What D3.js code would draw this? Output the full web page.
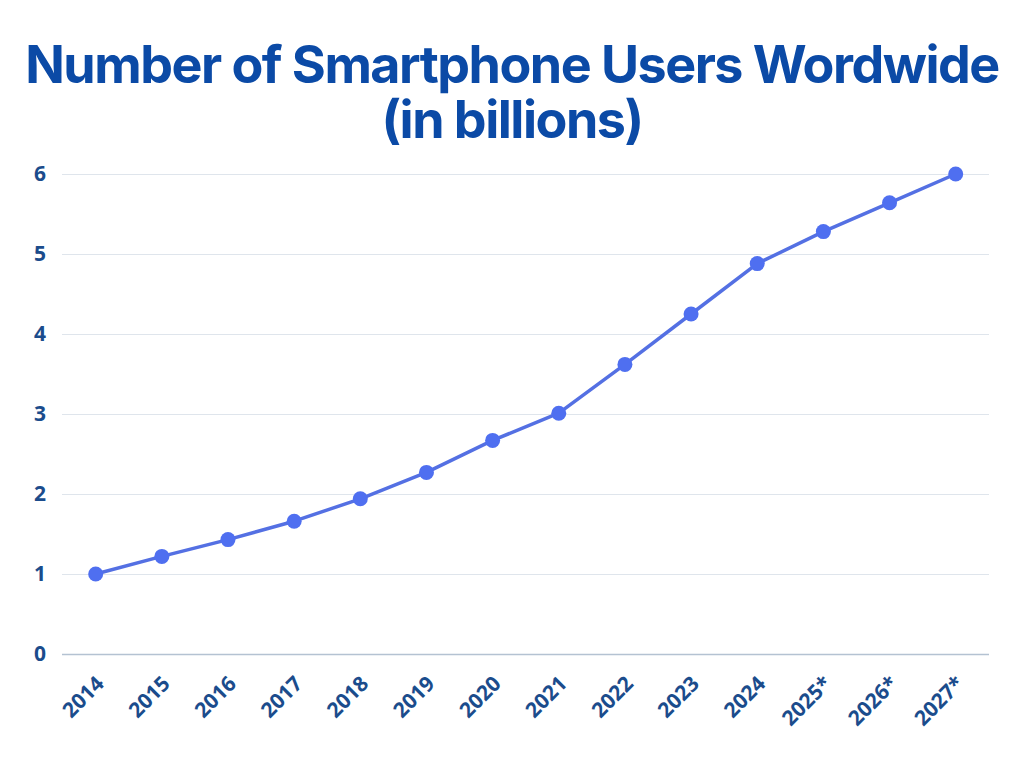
<!DOCTYPE html>
<html lang="en">
<head>
  <meta charset="UTF-8">
  <script src="https://d3js.org/d3.v7.min.js"></script>
  <title>Number of Smartphone Users Wordwide</title>
  <style>
    body { margin: 0; background: #fff; }
    .title { font-family: Inter, "Open Sans", sans-serif; font-weight: 700; fill: #0b4aa6; letter-spacing: -1.5px; }
  </style>
</head>
<body>
  <div id="chart"></div>
  <script>
    const years = ["2014", "2015", "2016", "2017", "2018", "2019", "2020",
                   "2021", "2022", "2023", "2024", "2025*", "2026*", "2027*"];
    const users = [1.0, 1.22, 1.43, 1.66, 1.94, 2.27, 2.67,
                   3.01, 3.62, 4.25, 4.88, 5.28, 5.64, 6.0];
    const yTicks = [0, 1, 2, 3, 4, 5, 6];
    const titleLines = ["Number of Smartphone Users Wordwide", "(in billions)"];

    const width = 1024, height = 768;
    const svg = d3.select("#chart").append("svg")
      .attr("width", width)
      .attr("height", height);

    // title: size it so the first line spans ~976px without squeezing glyphs
    const t1 = svg.append("text").attr("class", "title")
      .attr("x", 512).attr("y", 83)
      .attr("text-anchor", "middle")
      .attr("font-size", 52)
      .text(titleLines[0]);
    const fs = Math.min(52, 52 * 976 / t1.node().getComputedTextLength());
    t1.attr("font-size", fs);
    svg.append("text").attr("class", "title")
      .attr("x", 512).attr("y", 138)
      .attr("text-anchor", "middle")
      .attr("font-size", fs)
      .text(titleLines[1]);

    const plot = { left: 62, right: 989, top: 174, bottom: 654 };

    const x = d3.scalePoint()
      .domain(years)
      .range([95.7, 955.7]);

    const y = d3.scaleLinear()
      .domain([0, 6])
      .range([plot.bottom, plot.top]);

    // grid + y labels
    const yAxis = svg.append("g")
      .attr("transform", `translate(${plot.left},0)`)
      .call(d3.axisLeft(y).tickValues(yTicks).tickSize(-(plot.right - plot.left)).tickPadding(16).tickFormat(d3.format("d")));
    yAxis.select(".domain").remove();
    yAxis.selectAll(".tick line")
      .attr("stroke", d => d === 0 ? "#b4c2d2" : "#dfe5ec")
      .attr("stroke-width", d => d === 0 ? 1.5 : 1);

    // x labels
    const xAxis = svg.append("g")
      .attr("transform", `translate(0,${plot.bottom})`)
      .call(d3.axisBottom(x).tickSize(0));
    xAxis.select(".domain").remove();
    xAxis.selectAll(".tick text")
      .attr("text-anchor", "end")
      .attr("x", 0)
      .attr("y", 0)
      .attr("dx", 0)
      .attr("dy", 0)
      .attr("transform", "translate(9,31) rotate(-45)");

    svg.selectAll(".tick text")
      .style("font-family", "'Open Sans', sans-serif")
      .style("font-weight", 700)
      .style("font-size", "21px")
      .style("fill", "#1b4c8c");

    const pts = years.map((yr, i) => [yr, users[i]]);

    svg.append("path")
      .datum(pts)
      .attr("fill", "none")
      .attr("stroke", "#5470e3")
      .attr("stroke-width", 3.5)
      .attr("stroke-linejoin", "round")
      .attr("d", d3.line().x(d => x(d[0])).y(d => y(d[1])));

    svg.selectAll(".dot")
      .data(pts)
      .enter()
      .append("circle")
      .attr("class", "dot")
      .attr("cx", d => x(d[0]))
      .attr("cy", d => y(d[1]))
      .attr("r", 7.5)
      .attr("fill", "#4f6ff0");
  </script>
</body>
</html>
